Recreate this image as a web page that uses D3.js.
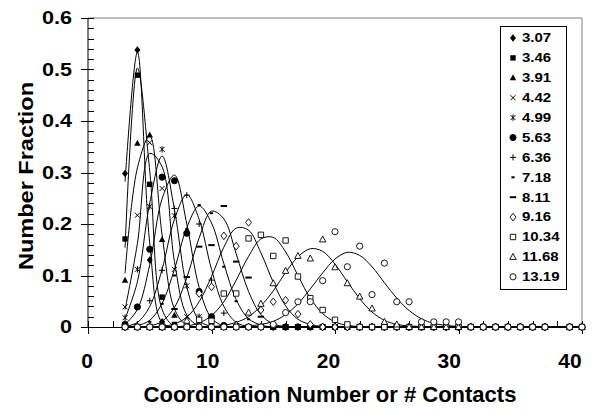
<!DOCTYPE html>
<html>
<head>
<meta charset="utf-8">
<script src="https://cdn.jsdelivr.net/npm/d3@7"></script>
<style>
    body { margin: 0; background: #fff; }
    text { font-family: Arial, "Liberation Sans", sans-serif; font-weight: bold; fill: #000; }
</style>
</head>
<body>
<svg id="chart" width="593" height="410"></svg>
<script>
// Coordination numbers where points were measured (no point at 38)
const contacts = [3, 4, 5, 6, 7, 8, 9, 10, 11, 12, 13, 14, 15, 16, 17, 18, 19, 20,
    21, 22, 23, 24, 25, 26, 27, 28, 29, 30, 31, 32, 33, 34, 35, 36, 37, 39, 40];

const seriesLabels = ["3.07", "3.46", "3.91", "4.42", "4.99", "5.63", "6.36",
    "7.18", "8.11", "9.16", "10.34", "11.68", "13.19"];

// Measured number fraction, starting at contact 3 (later contacts are 0)
const points307 = [0.298, 0.538, 0.130, 0.010];
const points346 = [0.171, 0.489, 0.277, 0.058, 0.005];
const points391 = [0.091, 0.357, 0.373, 0.170, 0.023, 0.005];
const points442 = [0.039, 0.217, 0.358, 0.269, 0.112, 0.020, 0.003];
const points499 = [0.018, 0.112, 0.234, 0.345, 0.216, 0.080, 0.020, 0.003];
const points563 = [0.005, 0.039, 0.151, 0.291, 0.284, 0.182, 0.069, 0.020, 0.003];
const points636 = [0.001, 0.005, 0.051, 0.110, 0.230, 0.256, 0.200, 0.091, 0.027, 0.005];
const points718 = [0, 0, 0.010, 0.045, 0.100, 0.190, 0.237, 0.221, 0.117, 0.050, 0.015, 0.003];
const points811 = [0, 0, 0, 0.005, 0.035, 0.097, 0.156, 0.159, 0.235, 0.127, 0.096, 0.020, 0.005];
const points916 = [0, 0, 0, 0, 0, 0.010, 0.065, 0.078, 0.177, 0.157, 0.203, 0.033, 0.049, 0.052, 0.025, 0.005];
const points1034 = [0, 0, 0, 0, 0, 0.002, 0.014, 0.012, 0.065, 0.065, 0.172, 0.179, 0.138, 0.168, 0.098,
    0.056, 0.033, 0.014, 0.005];
const points1168 = [0, 0, 0, 0, 0, 0, 0, 0, 0, 0.005, 0.028, 0.045, 0.085, 0.109, 0.138, 0.133, 0.170,
    0.116, 0.085, 0.059, 0.036, 0.010, 0.005];
const points1319 = [0, 0, 0, 0, 0, 0, 0, 0, 0, 0, 0, 0, 0.005, 0.028, 0.049, 0.049, 0.090, 0.185, 0.117,
    0.157, 0.063, 0.124, 0.049, 0.049, 0.010, 0.010, 0.010, 0.010];

// Fitted curves read at each integer contact from 3 (0 beyond)
const fit307 = [0.282, 0.534, 0.163, 0.008];
const fit346 = [0.154, 0.503, 0.303, 0.034, 0.001];
const fit391 = [0.104, 0.309, 0.371, 0.179, 0.035, 0.003];
const fit442 = [0.034, 0.162, 0.337, 0.311, 0.127, 0.023, 0.002];
const fit499 = [0.016, 0.088, 0.241, 0.332, 0.228, 0.078, 0.013, 0.001];
const fit563 = [0.005, 0.034, 0.121, 0.249, 0.295, 0.200, 0.077, 0.017, 0.002];
const fit636 = [0.001, 0.009, 0.040, 0.112, 0.209, 0.257, 0.209, 0.112, 0.040, 0.009, 0.001];
const fit718 = [0, 0.003, 0.013, 0.046, 0.112, 0.193, 0.235, 0.202, 0.123, 0.053, 0.016, 0.004];
const fit811 = [0, 0, 0.002, 0.011, 0.038, 0.096, 0.173, 0.225, 0.210, 0.142, 0.069, 0.024, 0.006, 0.001];
const fit916 = [0, 0, 0, 0.001, 0.006, 0.019, 0.049, 0.098, 0.155, 0.192, 0.188, 0.144, 0.087, 0.041,
    0.015, 0.005, 0.001];
const fit1034 = [0, 0, 0, 0, 0.001, 0.002, 0.008, 0.022, 0.049, 0.091, 0.137, 0.171, 0.174, 0.146, 0.100,
    0.056, 0.026, 0.010, 0.003, 0.001];
const fit1168 = [0, 0, 0, 0, 0, 0, 0, 0.001, 0.003, 0.009, 0.020, 0.041, 0.070, 0.106, 0.136, 0.152,
    0.147, 0.122, 0.088, 0.055, 0.029, 0.013, 0.005, 0.002, 0.001];
const fit1319 = [0, 0, 0, 0, 0, 0, 0, 0, 0, 0.001, 0.002, 0.005, 0.011, 0.024, 0.045, 0.074, 0.105, 0.132,
    0.145, 0.139, 0.117, 0.086, 0.056, 0.032, 0.016, 0.007, 0.003, 0.001];

const xTicks = [0, 10, 20, 30, 40];
const yTicks = [0, 0.1, 0.2, 0.3, 0.4, 0.5, 0.6];

const pointSets = [points307, points346, points391, points442, points499, points563, points636,
    points718, points811, points916, points1034, points1168, points1319];
const fitSets = [fit307, fit346, fit391, fit442, fit499, fit563, fit636,
    fit718, fit811, fit916, fit1034, fit1168, fit1319];
const symbols = ["diamond", "square", "triangle", "times", "asterisk", "circle", "plus",
    "shortdash", "dash", "odiamond", "osquare", "otriangle", "ocircle"];

const svg = d3.select("#chart");

const x = d3.scaleLinear().domain([0, 40]).range([88, 582]);
const y = d3.scaleLinear().domain([0, 0.6]).range([327, 18]);
// tick labels sit slightly left of their ticks in the original
const xLabel = d3.scaleLinear().domain([0, 40]).range([87, 570]);

// marker shapes
function markerPath(kind) {
    switch (kind) {
        case "diamond": case "odiamond": return "M0,-3.8L3,0L0,3.8L-3,0Z";
        case "square": case "osquare": return "M-2.7,-2.7H2.7V2.7H-2.7Z";
        case "triangle": case "otriangle": return "M0,-3.5L3.2,2.5H-3.2Z";
        case "times": return "M-2.5,-2.5L2.5,2.5M-2.5,2.5L2.5,-2.5";
        case "asterisk": return "M-2.5,-2.5L2.5,2.5M-2.5,2.5L2.5,-2.5M0,-3.2V3.2";
        case "plus": return "M-3,0H3M0,-3V3";
        case "shortdash": return "M-1.6,0H1.6";
        case "dash": return "M-3.2,0H3.2";
    }
    return null;
}

function drawMarker(sel, kind) {
    if (kind === "circle" || kind === "ocircle") {
        sel.append("circle").attr("r", 3.1)
            .attr("fill", kind === "circle" ? "#000" : "#fff")
            .attr("stroke", "#000").attr("stroke-width", 0.9);
        return;
    }
    const p = sel.append("path").attr("d", markerPath(kind));
    if (["diamond", "square", "triangle"].includes(kind)) {
        p.attr("fill", "#000").attr("stroke", "none");
    } else if (kind.startsWith("o")) {
        p.attr("fill", "#fff").attr("stroke", "#000").attr("stroke-width", 0.9);
    } else {
        p.attr("fill", "none").attr("stroke", "#000")
            .attr("stroke-width", kind.endsWith("dash") ? 2 : 1);
    }
}

// plot area border (grey, top and right)
svg.append("path")
    .attr("d", `M${x(0)},${y(0.6)}H${x(40)}V${y(0)}`)
    .attr("fill", "none").attr("stroke", "#808080").attr("stroke-width", 1);

// y axis
const yAxis = svg.append("g");
yAxis.append("line").attr("x1", x(0)).attr("x2", x(0)).attr("y1", y(0)).attr("y2", y(0.6))
    .attr("stroke", "#000");
d3.range(0, 31).forEach(i => {
    const v = i * 0.02;
    const major = i % 5 === 0;
    yAxis.append("line")
        .attr("x1", major ? x(0) - 7 : x(0)).attr("x2", x(0) + 6)
        .attr("y1", Math.round(y(v)) + 0.5).attr("y2", Math.round(y(v)) + 0.5)
        .attr("stroke", "#000");
});
yAxis.selectAll("text.tick").data(yTicks).join("text")
    .attr("class", "tick")
    .attr("transform", d => `translate(72,${y(d)}) scale(1.2,1)`)
    .attr("dy", "0.36em")
    .attr("text-anchor", "end")
    .style("font-size", "18px")
    .text(d => d === 0 ? "0" : d3.format(".1f")(d));

// x axis
const xAxis = svg.append("g");
xAxis.append("line").attr("x1", x(0)).attr("x2", x(40)).attr("y1", y(0) + 0.5).attr("y2", y(0) + 0.5)
    .attr("stroke", "#000");
d3.range(0, 41, 2).forEach(v => {
    const major = v % 10 === 0;
    xAxis.append("line")
        .attr("x1", Math.round(x(v)) + 0.5).attr("x2", Math.round(x(v)) + 0.5)
        .attr("y1", y(0) - 6).attr("y2", major ? y(0) + 7 : y(0))
        .attr("stroke", "#000");
});
xAxis.selectAll("text.tick").data(xTicks).join("text")
    .attr("class", "tick")
    .attr("x", d => xLabel(d)).attr("y", 368)
    .attr("text-anchor", "middle")
    .style("font-size", "21px")
    .text(d => d);

// axis titles
svg.append("text")
    .attr("transform", "translate(33,176) rotate(-90) scale(1.12,1)")
    .attr("text-anchor", "middle")
    .style("font-size", "21px")
    .text("Number Fraction");
svg.append("text")
    .attr("x", 330).attr("y", 402)
    .attr("text-anchor", "middle")
    .style("font-size", "22px")
    .text("Coordination Number or # Contacts");

// series
const series = seriesLabels.map((label, i) => ({
    label,
    symbol: symbols[i],
    points: contacts.map(c => ({ c, v: pointSets[i][c - 3] ?? 0 })),
    fit: d3.range(3, 41).map(c => ({ c, v: fitSets[i][c - 3] ?? 0 }))
}));

const line = d3.line()
    .x(d => x(d.c))
    .y(d => y(d.v))
    .curve(d3.curveCatmullRom.alpha(0.5));

svg.append("g").selectAll("path").data(series).join("path")
    .attr("d", d => line(d.fit))
    .attr("fill", "none")
    .attr("stroke", "#000")
    .attr("stroke-width", 1);

const markerLayer = svg.append("g");
series.forEach(s => {
    s.points.forEach(p => {
        const g = markerLayer.append("g")
            .attr("transform", `translate(${x(p.c)},${y(p.v)})`);
        drawMarker(g, s.symbol);
    });
});

// legend
const legend = svg.append("g");
legend.append("rect")
    .attr("x", 500.5).attr("y", 26.5).attr("width", 66).attr("height", 263)
    .attr("fill", "#fff").attr("stroke", "#000").attr("stroke-width", 1);
series.forEach((s, i) => {
    const cy = 38 + i * 19.9;
    drawMarker(legend.append("g").attr("transform", `translate(513,${cy})`), s.symbol);
    legend.append("text")
        .attr("transform", `translate(522,${cy}) scale(1.25,1)`)
        .attr("dy", "0.36em")
        .style("font-size", "12px")
        .text(s.label);
});
</script>
</body>
</html>
